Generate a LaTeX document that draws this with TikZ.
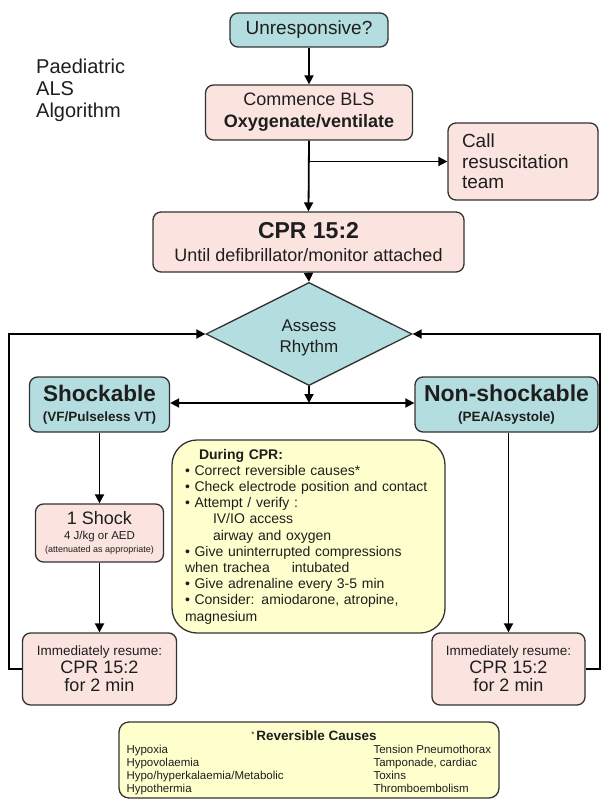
\documentclass[tikz,border=0pt]{standalone}
\usepackage{fontspec}
\setmainfont{Liberation Sans}
\usetikzlibrary{shapes.geometric,arrows.meta,calc}
\definecolor{tealc}{RGB}{180,221,224}
\definecolor{pinkc}{RGB}{251,228,224}
\definecolor{yelc}{RGB}{255,255,206}
\definecolor{bordc}{RGB}{50,50,50}
\definecolor{txtc}{RGB}{30,30,30}
\newcommand{\fsz}[2]{\fontsize{#1}{#2}\selectfont}
\begin{document}
\begin{tikzpicture}[x=1pt,y=-1pt,
  box/.style={draw=bordc, line width=1.3pt, rounded corners=8pt, align=center, inner sep=2pt, text=txtc},
  tealbox/.style={box, fill=tealc},
  pinkbox/.style={box, fill=pinkc},
  yelbox/.style={box, fill=yelc},
  diam/.style={draw=bordc, line width=1.3pt, fill=tealc, shape=diamond, inner sep=0pt, align=center, text=txtc},
  arr/.style={line width=1.8pt, draw=black, -{Triangle[length=9pt,width=9pt]}},
  ln/.style={line width=1.8pt, draw=black}]
\useasboundingbox (0,0) rectangle (600,799);

\node[anchor=west, align=left, inner sep=0pt, text=txtc, font=\fsz{20}{22}] (title) at (36,90) {Paediatric\\ALS\\Algorithm};

\node[tealbox, minimum width=158pt, minimum height=34pt, font=\fsz{19}{22}] (unresp) at (309,30) {Unresponsive?};
\node[pinkbox, minimum width=207pt, minimum height=55pt, font=\fsz{18}{22}] (bls) at (309,112.5) {Commence BLS\\\textbf{Oxygenate/ventilate}};
\node[pinkbox, minimum width=150pt, minimum height=77pt, text width=122pt, align=left, inner xsep=14pt, font=\fsz{19}{20.5}] (call) at (523,161.5) {Call\\resuscitation\\team};
\node[pinkbox, minimum width=311pt, minimum height=60pt, font=\fsz{18}{23}] (cpr) at (308.5,242) {{\fsz{23}{23}\textbf{CPR 15:2}}\\Until defibrillator/monitor attached};
\node[diam, minimum width=206pt, minimum height=88pt, font=\fsz{17}{21}] (diamond) at (309,334) {\rule{0pt}{20pt}Assess\\Rhythm};

\node[tealbox, minimum width=140pt, minimum height=55pt, font=\fsz{13.5}{20}] (shock) at (99.5,404.5) {{\fsz{22.5}{22}\textbf{Shockable}}\\\textbf{(VF/Pulseless VT)}};
\node[tealbox, minimum width=183pt, minimum height=55pt, font=\fsz{13.5}{20}] (nonshock) at (506.5,404.5) {{\fsz{23}{22}\textbf{Non-shockable}}\\\textbf{(PEA/Asystole)}};

\node[yelbox, rounded corners=25pt, minimum width=273pt, minimum height=193pt, text width=247pt, inner xsep=13pt, align=left, font=\fsz{14}{16.2}] (during) at (308.5,536.5) {%
\hspace*{14pt}\textbf{During CPR:}\\
\textbullet\ Correct reversible causes*\\
\textbullet\ Check electrode position and contact\\
\textbullet\ Attempt / verify :\\
\hspace*{28pt}IV/IO access\\
\hspace*{28pt}airway and oxygen\\
\textbullet\ Give uninterrupted compressions\\
when trachea\hspace{22pt}intubated\\
\textbullet\ Give adrenaline every 3-5 min\\
\textbullet\ Consider: amiodarone, atropine,\\
magnesium};

\node[pinkbox, minimum width=128pt, minimum height=58pt, font=\fsz{9}{14}] (oneshock) at (99.5,533) {{\fsz{18}{18}1 Shock}\\[1pt]{\fsz{11.5}{13}4 J/kg or AED}\\[-1pt](attenuated as appropriate)};

\node[pinkbox, minimum width=154pt, minimum height=72pt, font=\fsz{18}{18}] (resL) at (99.5,669) {{\fsz{13.5}{15}Immediately resume:}\\CPR 15:2\\for 2 min};
\node[pinkbox, minimum width=153pt, minimum height=72pt, font=\fsz{18}{18}] (resR) at (508.5,669) {{\fsz{13.5}{15}Immediately resume:}\\CPR 15:2\\for 2 min};

\node[yelbox, rounded corners=10pt, minimum width=380pt, minimum height=76pt, inner xsep=7pt, font=\fsz{11.5}{12.7}] (rev) at (309,760) {%
\begin{tabular}{@{}p{247pt}@{}p{118pt}@{}}
\multicolumn{2}{c}{\rule{0pt}{16pt}\hspace*{10pt}{\fsz{8}{8}\raisebox{3pt}{*}}\,{\fsz{13.5}{14}\textbf{Reversible Causes}}}\\[1pt]
Hypoxia & Tension Pneumothorax\\
Hypovolaemia & Tamponade, cardiac\\
Hypo/hyperkalaemia/Metabolic & Toxins\\
Hypothermia & Thromboembolism
\end{tabular}};

% connectors
\draw[arr] (unresp.south) -- (bls.north);
\draw[arr] (bls.south) -- (cpr.north);
\draw[arr] (bls.south |- call.west) -- (call.west);
\draw[arr] (cpr.south) -- (diamond.north);
\coordinate (j) at (309,403);
\draw[arr] (diamond.south) -- (j);
\draw[arr] (j) -- (shock.east |- j);
\draw[arr] (j) -- (nonshock.west |- j);
\draw[arr] (shock.south) -- (oneshock.north);
\draw[arr] (oneshock.south) -- (resL.north);
\draw[arr] (nonshock.south -| resR.north) -- (resR.north);
\draw[arr] (resL.west) -- ++(-13,0) |- (diamond.west);
\draw[arr] (resR.east) -- ++(14,0) |- (diamond.east);
\end{tikzpicture}
\end{document}
